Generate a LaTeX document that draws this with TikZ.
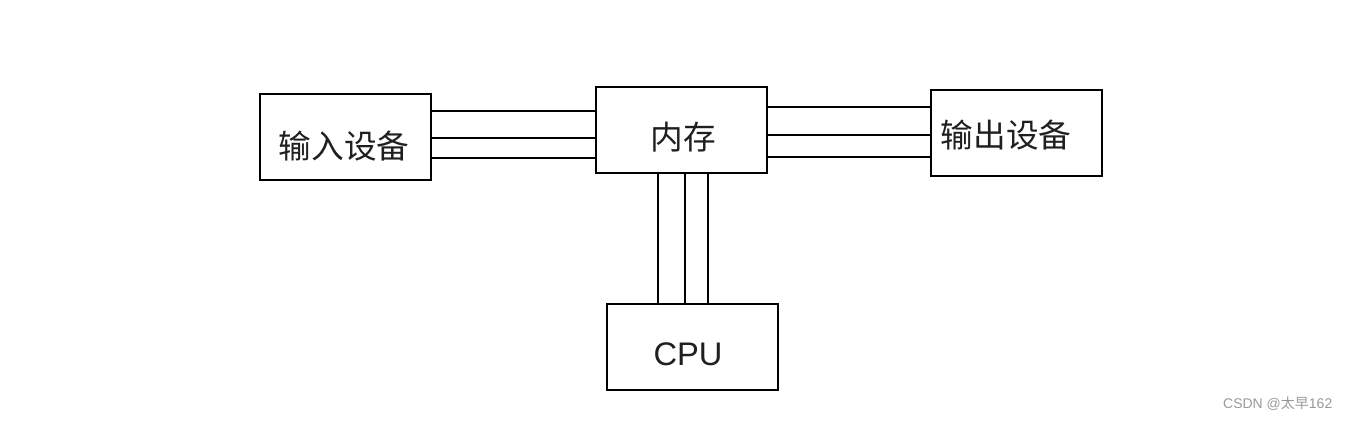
\documentclass[tikz,border=0pt]{standalone}
\usepackage{fontspec}
\setmainfont{Liberation Sans}
\newfontfamily\cjk{Noto Sans CJK SC}
\begin{document}
\begin{tikzpicture}[x=0.75pt,y=-0.75pt,
  box/.style={draw=black,line width=1.3pt,minimum width=171*0.75pt,minimum height=86*0.75pt,inner sep=0pt,anchor=north west},
  lbl/.style={font=\fontsize{24.5}{28}\selectfont,text=black!88,inner sep=0pt},
  bus/.style={line width=0.9pt,draw=black}]
\useasboundingbox (0,0) rectangle (1351,421);
\node[box] (in) at (259,93) {};
\node[lbl] (intext) at (344,146) {\cjk 输入设备};
\node[box] (mem) at (595,86) {};
\node[lbl] (memtext) at (683,137) {\cjk 内存};
\node[box] (out) at (930,89) {};
\node[lbl] (outtext) at (1006,135) {\cjk 输出设备};
\node[box] (cpu) at (606,303) {};
\node[lbl] (cputext) at (688,354) {CPU};
\foreach \y in {111,138,158}{\draw[bus] (in.east |- 0,\y) -- (mem.west |- 0,\y);}
\foreach \y in {107,135,157}{\draw[bus] (mem.east |- 0,\y) -- (out.west |- 0,\y);}
\draw[line width=1.3pt] (mem.south -| 658,0) -- (cpu.north -| 658,0);
\foreach \x in {685,708}{\draw[bus] (mem.south -| \x,0) -- (cpu.north -| \x,0);}
\node[anchor=east,text=black!40,font=\fontsize{10.5}{12}\selectfont] (wm) at (1337,404) {CSDN @{\cjk 太早}162};
\end{tikzpicture}
\end{document}
